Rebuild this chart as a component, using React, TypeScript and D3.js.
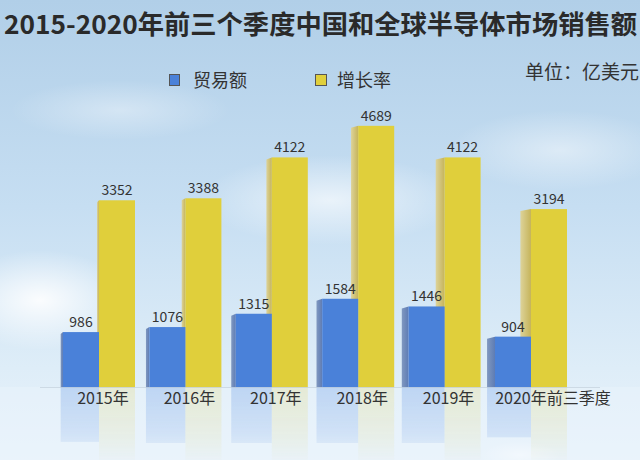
import React from "react";
import * as d3 from "d3";

const categories = ["2015年", "2016年", "2017年", "2018年", "2019年", "2020年前三季度"];
const tradeValues = [986, 1076, 1315, 1584, 1446, 904];
const growthValues = [3352, 3388, 4122, 4689, 4122, 3194];
const seriesNames = ["贸易额", "增长率"];

const W = 640;
const H = 460;
const BASE = 387;
const FONT = "'Noto Sans CJK SC', 'Noto Sans', sans-serif";

export default function App() {
  const x = d3.scalePoint<string>().domain(categories).range([99, 531]);
  const y = d3.scaleLinear().domain([0, 5000]).range([BASE, BASE - 5000 * 0.0557]);
  const bw = 36;
  const blue = "#4a81d9";
  const yellow = "#e0cf3b";

  const bars: React.ReactNode[] = [];
  const refl: React.ReactNode[] = [];
  categories.forEach((c, i) => {
    const cx = x(c)!;
    const sideB = Math.max(1.5, 1.5 + 0.013 * (cx - bw));
    const sideY = Math.max(2, 0.02 * cx);
    const yv = y(growthValues[i]);
    const bv = y(tradeValues[i]);
    bars.push(
      <g key={"y" + i}>
        <polygon points={`${cx - sideY},${yv + 2} ${cx},${yv} ${cx},${BASE} ${cx - sideY},${BASE}`} fill="url(#ySide)" />
        <rect x={cx} y={yv} width={bw} height={BASE - yv} fill={yellow} />
        <polygon points={`${cx - bw - sideB},${bv + 2} ${cx - bw},${bv} ${cx - bw},${BASE} ${cx - bw - sideB},${BASE}`} fill="url(#bSide)" />
        <rect x={cx - bw} y={bv} width={bw} height={BASE - bv} fill={blue} />
        <text x={cx - bw / 2} y={bv - 5} textAnchor="middle" fontSize={14} fill="#333" fontFamily={FONT}>{tradeValues[i]}</text>
        <text x={cx + bw / 2} y={yv - 5} textAnchor="middle" fontSize={14} fill="#333" fontFamily={FONT}>{growthValues[i]}</text>
      </g>
    );
    const bh = Math.min(BASE - bv, 56);
    refl.push(
      <g key={"r" + i} mask="url(#fade)">
        <rect x={cx - bw - sideB} y={BASE} width={bw + sideB} height={bh} fill="#8fb3ea" opacity={0.45} />
        <rect x={cx} y={BASE} width={bw} height={90} fill="#e6e0a0" opacity={0.4} />
      </g>
    );
  });

  const labelX = (c: string, i: number) => x(c)! + (i === categories.length - 1 ? 22 : 4);

  return (
    <svg width={W} height={H} style={{ position: "absolute", left: 0, top: 0, display: "block" }}>
      <defs>
        <linearGradient id="bg" x1="0" y1="0" x2="0" y2="1">
          <stop offset="0" stopColor="#b1cfe8" />
          <stop offset="0.45" stopColor="#c6def2" />
          <stop offset="0.8" stopColor="#deedf8" />
          <stop offset="1" stopColor="#eaf3fb" />
        </linearGradient>
        <linearGradient id="bSide" x1="0" y1="0" x2="1" y2="0">
          <stop offset="0" stopColor="#8098c0" />
          <stop offset="1" stopColor="#5e7cb4" />
        </linearGradient>
        <linearGradient id="ySide" x1="0" y1="0" x2="1" y2="0">
          <stop offset="0" stopColor="#ddd39a" />
          <stop offset="1" stopColor="#c6b45a" />
        </linearGradient>
        <radialGradient id="cloud">
          <stop offset="0" stopColor="#ffffff" stopOpacity="0.9" />
          <stop offset="1" stopColor="#ffffff" stopOpacity="0" />
        </radialGradient>
        <linearGradient id="fadeG" x1="0" y1="0" x2="0" y2="1">
          <stop offset="0" stopColor="#fff" stopOpacity="1" />
          <stop offset="0.6" stopColor="#fff" stopOpacity="0.6" />
          <stop offset="1" stopColor="#fff" stopOpacity="0.1" />
        </linearGradient>
        <mask id="fade" maskUnits="userSpaceOnUse" x="0" y={BASE} width={W} height={H - BASE}>
          <rect x="0" y={BASE} width={W} height={H - BASE} fill="url(#fadeG)" />
        </mask>
      </defs>
      <rect x="0" y="0" width={W} height={H} fill="url(#bg)" />
      <ellipse cx="40" cy="300" rx="90" ry="50" fill="url(#cloud)" />
      <ellipse cx="330" cy="200" rx="130" ry="45" fill="url(#cloud)" opacity={0.7} />
      <ellipse cx="560" cy="150" rx="110" ry="40" fill="url(#cloud)" opacity={0.5} />
      <ellipse cx="120" cy="110" rx="110" ry="30" fill="url(#cloud)" opacity={0.4} />
      <ellipse cx="520" cy="455" rx="40" ry="14" fill="url(#cloud)" opacity={0.9} />
      <rect x="0" y={BASE} width={W} height={H - BASE} fill="#eaf4fc" opacity={0.5} />
      {refl}
      {bars}
      <line x1="40" x2="600" y1={BASE + 0.5} y2={BASE + 0.5} stroke="#aab8c6" strokeOpacity={0.4} />
      <text x={4} y={34} fontSize={26} fontWeight="bold" fill="#2a2a2a" fontFamily={FONT} textLength={633} lengthAdjust="spacingAndGlyphs">
        2015-2020年前三个季度中国和全球半导体市场销售额
      </text>
      <rect x={169.5} y={74.5} width={10} height={11} fill={blue} stroke="#555" strokeWidth={1} />
      <text x={193} y={87} fontSize={18} fill="#333" fontFamily={FONT}>{seriesNames[0]}</text>
      <rect x={315.5} y={74.5} width={11} height={11} fill={yellow} stroke="#555" strokeWidth={1} />
      <text x={337} y={87} fontSize={18} fill="#333" fontFamily={FONT}>{seriesNames[1]}</text>
      <text x={639} y={79} textAnchor="end" fontSize={19} fill="#333" fontFamily={FONT}>单位：亿美元</text>
      {categories.map((c, i) => (
        <text key={c} x={labelX(c, i)} y={404} textAnchor="middle" fontSize={16} fill="#333" fontFamily={FONT}>{c}</text>
      ))}
    </svg>
  );
}
